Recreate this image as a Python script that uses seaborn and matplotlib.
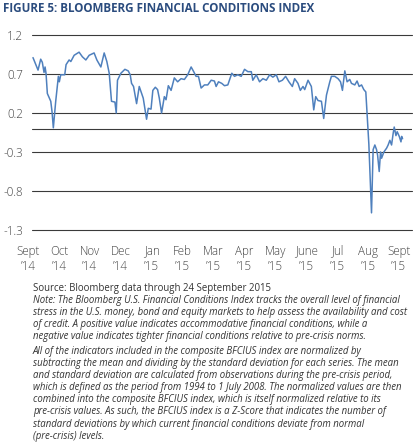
import numpy as np
import pandas as pd
import matplotlib
matplotlib.use("Agg")
import matplotlib.pyplot as plt
import seaborn as sns
from matplotlib.transforms import ScaledTranslation

# ---- data: days since 2014-09-01 and index value ----
days = [0, 5.3, 8.1, 9.8, 11.6, 12.7, 13.7, 15.1, 18.7, 20.0,
        21.4, 23.9, 26.7, 27.7, 29.2, 33.4, 34.8, 38.0, 39.8, 43.3,
        48.5, 52.0, 55.6, 59.1, 64.3, 67.2, 71.4, 74.9, 77.7, 80.2,
        82.6, 86.2, 87.6, 88.9, 92.5, 96.7, 100.2, 102.3, 103.7, 105.8,
        109.0, 111.8, 116.0, 119.5, 121.3, 124.2, 126.1, 128.7, 131.1, 132.9,
        135.3, 138.2, 140.0, 142.4, 145.3, 148.7, 152.2, 155.8, 159.3, 162.8,
        166.4, 169.1, 171.6, 174.1, 176.9, 180.4, 183.9, 187.5, 190.9, 192.7,
        195.2, 198.6, 201.5, 205.0, 209.2, 212.0, 215.5, 219.1, 222.6, 226.1,
        229.7, 231.3, 234.9, 238.4, 241.9, 245.5, 249.0, 252.4, 256.0, 258.8,
        262.4, 265.8, 269.3, 272.9, 275.3, 278.8, 281.3, 284.1, 285.9, 289.4,
        292.9, 295.4, 297.5, 299.9, 303.5, 305.9, 308.8, 312.3, 314.0, 317.5,
        321.0, 323.6, 325.6, 328.1, 330.5, 333.3, 335.1, 338.6, 341.0, 343.2,
        345.7, 348.1, 350.2, 353.4, 356.2, 357.9, 359.7, 361.5, 362.6, 364.3,
        365.7, 366.8, 369.2, 372.1, 373.7, 375.5, 377.3, 379.0, 380.1, 381.9,
        383.2, 385.4, 387.2, 387.9, 388.9]

values = [0.91, 0.75, 0.89, 0.85, 0.72, 0.79, 0.71, 0.45, 0.35, 0.22,
          0.01, 0.35, 0.67, 0.60, 0.69, 0.69, 0.82, 0.88, 0.86, 0.94,
          0.98, 0.92, 0.88, 0.94, 0.97, 0.88, 0.79, 0.97, 0.86, 0.71,
          0.35, 0.34, 0.20, 0.62, 0.71, 0.76, 0.74, 0.69, 0.58, 0.54,
          0.32, 0.54, 0.39, 0.12, 0.26, 0.25, 0.49, 0.53, 0.50, 0.39,
          0.20, 0.41, 0.37, 0.55, 0.49, 0.65, 0.60, 0.64, 0.63, 0.69,
          0.79, 0.73, 0.67, 0.67, 0.52, 0.56, 0.56, 0.62, 0.61, 0.54,
          0.60, 0.58, 0.55, 0.56, 0.71, 0.67, 0.69, 0.67, 0.76, 0.73,
          0.73, 0.62, 0.69, 0.60, 0.64, 0.62, 0.69, 0.66, 0.69, 0.60,
          0.62, 0.67, 0.60, 0.54, 0.64, 0.58, 0.49, 0.54, 0.50, 0.62,
          0.54, 0.24, 0.41, 0.36, 0.35, 0.13, 0.43, 0.60, 0.67, 0.67,
          0.64, 0.60, 0.49, 0.74, 0.60, 0.63, 0.58, 0.56, 0.61, 0.54,
          0.56, 0.50, 0.47, -0.20, -1.08, -0.27, -0.21, -0.27, -0.34, -0.55,
          -0.30, -0.38, -0.30, -0.25, -0.21, -0.15, -0.21, -0.06, 0.02, -0.09,
          -0.04, -0.10, -0.17, -0.10, -0.13]

month_labels = ["Sept\n\u201914", "Oct\n\u201914", "Nov\n\u201914", "Dec\n\u201914",
                "Jan\n\u201915", "Feb\n\u201915", "Mar\n\u201915", "Apr\n\u201915",
                "May\n\u201915", "June\n\u201915", "Jul\n\u201915", "Aug\n\u201915",
                "Sept\n\u201915"]
y_ticks = [1.2, 0.7, 0.2, -0.3, -0.8, -1.3]
y_labels = ["1.2", "0.7", "0.2", "-0.3", "-0.8", "-1.3"]

title = "FIGURE 5: BLOOMBERG FINANCIAL CONDITIONS INDEX"
source = "Source: Bloomberg data through 24 September 2015"
note_lines = [
    "Note: The Bloomberg U.S. Financial Conditions Index tracks the overall level of financial",
    "stress in the U.S. money, bond and equity markets to help assess the availability and cost",
    "of credit. A positive value indicates accommodative financial conditions, while a",
    "negative value indicates tighter financial conditions relative to pre-crisis norms.",
    "All of the indicators included in the composite BFCIUS index are normalized by",
    "subtracting the mean and dividing by the standard deviation for each series. The mean",
    "and standard deviation are calculated from observations during the pre-crisis period,",
    "which is defined as the period from 1994 to 1 July 2008. The normalized values are then",
    "combined into the composite BFCIUS index, which is itself normalized relative to its",
    "pre-crisis values. As such, the BFCIUS index is a Z-Score that indicates the number of",
    "standard deviations by which current financial conditions deviate from normal",
    "(pre-crisis) levels.",
]

# ---- styling ----
sns.set_theme(style="white")
plt.rcParams["font.family"] = ["Open Sans", "DejaVu Sans"]

W, H = 415, 447
fig = plt.figure(figsize=(W / 100, H / 100), dpi=100)
fig.patch.set_facecolor("white")

ax_left, ax_right, ax_top, ax_bottom = 32, 412, 35, 230
ax = fig.add_axes([ax_left / W, 1 - ax_bottom / H,
                   (ax_right - ax_left) / W, (ax_bottom - ax_top) / H])
ax.set_facecolor("white")

start = pd.Timestamp("2014-09-01")
df = pd.DataFrame({"date": start + pd.to_timedelta(days, unit="D"),
                   "value": values})
sns.lineplot(data=df, x="date", y="value", ax=ax, color="#4f80bd",
             linewidth=1.1, sort=False)

ax.set_xlim(start + pd.Timedelta(days=-1.05), start + pd.Timedelta(days=398.8))
ax.set_ylim(-1.3, 1.2)
ax.set_xlabel("")
ax.set_ylabel("")
for s in ax.spines.values():
    s.set_visible(False)

grid_color = "#3a3a3a"
ax.set_yticks(y_ticks)
ax.set_yticklabels(y_labels)
ax.yaxis.grid(True, color=grid_color, linewidth=0.8)
ax.xaxis.grid(False)
for gl in ax.get_ygridlines():
    gl.set_clip_on(False)
ax.axhline(0, color=grid_color, linewidth=0.8, zorder=0.5)
ax.set_axisbelow(True)

tick_pos = [start + pd.Timedelta(days=32.52 * i) for i in range(len(month_labels))]
ax.set_xticks(tick_pos)
ax.set_xticklabels(month_labels, linespacing=1.2)
ax.tick_params(axis="x", length=0, pad=10.5, labelsize=8.4, labelcolor="#454545")
ax.tick_params(axis="y", length=0, pad=6.5, labelsize=8.4, labelcolor="#454545")
shift = ScaledTranslation(-0.05, 0, fig.dpi_scale_trans)
for lab in ax.get_xticklabels():
    lab.set_transform(lab.get_transform() + shift)
    lab.set_fontweight("light")
for lab in ax.get_yticklabels():
    lab.set_fontweight("light")

# ---- texts ----
def fy(py):
    return 1 - py / H

t_title = fig.text(3 / W, fy(8.5), title, fontsize=8, fontweight="bold",
                   color="#2b4c7e", va="center", ha="left")
t_src = fig.text(33 / W, fy(289), source, fontsize=6.5, color="#333333",
                 va="center", ha="left")
note_y = [300.5, 312.7, 324.5, 336.7, 351.5, 363.7, 375.5, 387.5, 399.5, 411.7, 424, 436.7]
t_notes = [fig.text(33 / W, fy(yy), line, fontsize=6.5, style="italic",
                    color="#333333", va="center", ha="left")
           for line, yy in zip(note_lines, note_y)]

fig.canvas.draw()
r = fig.canvas.get_renderer()

def fit(t, width_px):
    w = t.get_window_extent(r).width
    return t.get_fontsize() * width_px / w

t_title.set_fontsize(fit(t_title, 314))
t_src.set_fontsize(fit(t_src, 235))
fs_note = fit(t_notes[0], 369)
for t in t_notes:
    t.set_fontsize(fs_note)

fig.savefig("out.png", dpi=100, facecolor="white")
